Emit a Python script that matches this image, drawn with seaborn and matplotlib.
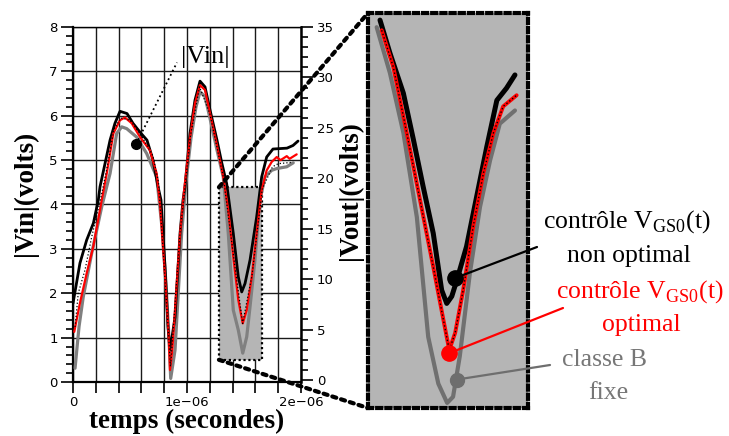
import matplotlib
matplotlib.use("Agg")
import numpy as np
import pandas as pd
import matplotlib.pyplot as plt
import seaborn as sns
from matplotlib.patches import Rectangle, ConnectionPatch
from matplotlib.ticker import MultipleLocator, FixedLocator

# time in microseconds, amplitude in volts
t_black = [0.0, 0.061, 0.12, 0.179, 0.222, 0.237, 0.325, 0.368, 0.412, 0.474, 0.526,
           0.588, 0.649, 0.702, 0.746, 0.772, 0.807, 0.833, 0.851, 0.895, 0.939,
           0.965, 0.982, 1.026, 1.07, 1.114, 1.158, 1.202, 1.263, 1.304, 1.348,
           1.406, 1.45, 1.48, 1.509, 1.553, 1.611, 1.655, 1.699, 1.754, 1.877,
           1.93, 1.974]
v_black = [1.77, 2.68, 3.2, 3.58, 4.1, 4.4, 5.45, 5.83, 6.1, 6.05, 5.83,
           5.63, 5.45, 5.0, 4.4, 4.1, 2.6, 1.24, 0.72, 1.46, 3.35,
           4.1, 4.4, 5.6, 6.35, 6.78, 6.65, 6.13, 5.45, 4.95, 4.47,
           3.35, 2.37, 2.03, 2.22, 2.75, 3.72, 4.62, 5.07, 5.25, 5.27,
           5.33, 5.43]

t_red = [0.011, 0.061, 0.12, 0.178, 0.252, 0.296, 0.354, 0.412, 0.456, 0.515, 0.588,
         0.675, 0.734, 0.763, 0.807, 0.838, 0.851, 0.871, 0.904, 0.939, 0.974,
         1.026, 1.07, 1.114, 1.158, 1.202, 1.26, 1.318, 1.362, 1.406, 1.45,
         1.489, 1.524, 1.568, 1.611, 1.655, 1.699, 1.743, 1.787, 1.82, 1.845,
         1.875, 1.9, 1.918, 1.962]
v_red = [1.13, 1.78, 2.45, 3.05, 4.1, 4.7, 5.6, 5.9, 5.96, 5.83, 5.52,
         5.22, 4.7, 4.0, 2.4, 1.1, 0.27, 0.72, 2.0, 3.35, 4.3,
         5.5, 6.28, 6.69, 6.58, 6.05, 5.37, 4.62, 3.87, 2.82, 1.85,
         1.32, 1.62, 2.37, 3.35, 4.32, 4.77, 4.96, 5.07, 5.0, 5.04,
         5.09, 5.03, 5.06, 5.13]

t_gray = [0.018, 0.053, 0.09, 0.164, 0.252, 0.325, 0.383, 0.427, 0.471, 0.558, 0.646,
          0.734, 0.78, 0.816, 0.842, 0.857, 0.895, 0.921, 0.953, 0.991, 1.035,
          1.079, 1.114, 1.158, 1.202, 1.26, 1.318, 1.362, 1.406, 1.45, 1.489,
          1.524, 1.553, 1.596, 1.64, 1.684, 1.743, 1.787, 1.875, 1.932]
v_gray = [0.31, 1.25, 1.92, 2.9, 3.95, 4.7, 5.6, 5.75, 5.71, 5.52, 5.15,
          4.62, 3.5, 2.2, 1.0, 0.08, 0.72, 1.9, 3.35, 4.5, 5.5,
          6.2, 6.54, 6.43, 5.94, 5.26, 4.62, 3.35, 1.62, 1.17, 0.65,
          1.02, 1.7, 2.75, 4.1, 4.62, 4.77, 4.81, 4.85, 4.94]

t_vin = [0.018, 0.046, 0.105, 0.164, 0.24, 0.3, 0.36, 0.42, 0.5, 0.6, 0.7,
         0.75, 0.8, 0.84, 0.855, 0.88, 0.94, 1.03, 1.11, 1.2, 1.32,
         1.41, 1.488, 1.57, 1.66, 1.75, 1.8, 1.92]
v_vin = [1.24, 2.0, 2.52, 3.27, 4.1, 4.85, 5.7, 5.95, 5.9, 5.55, 5.1,
         4.5, 2.6, 1.0, 0.35, 1.2, 3.4, 5.55, 6.65, 6.05, 4.6,
         2.8, 1.32, 2.4, 4.35, 4.85, 4.92, 4.95]

# zoomed view (hand-magnified in the original figure)
ti_black = [1.3085, 1.332, 1.364, 1.388, 1.411, 1.435, 1.455, 1.467, 1.479, 1.491,
            1.514, 1.538, 1.562, 1.586, 1.609, 1.629]
vi_black = [4.32, 3.996, 3.60, 3.14, 2.68, 2.22, 1.66, 1.53, 1.60, 1.76,
            2.09, 2.58, 3.07, 3.53, 3.65, 3.78]
ti_red = [1.3125, 1.340, 1.372, 1.4035, 1.435, 1.459, 1.473, 1.487, 1.506, 1.530,
          1.554, 1.578, 1.601, 1.633]
vi_red = [4.22, 3.86, 3.21, 2.55, 1.89, 1.37, 1.07, 1.24, 1.66, 2.29,
          2.81, 3.21, 3.47, 3.58]
ti_gray = [1.3006, 1.332, 1.364, 1.396, 1.423, 1.447, 1.468, 1.482, 1.498, 1.522,
           1.546, 1.570, 1.593, 1.629]
vi_gray = [4.25, 3.80, 3.21, 2.38, 1.20, 0.74, 0.55, 0.61, 1.01, 1.83,
           2.48, 2.94, 3.30, 3.43]

box_t = [1.28, 1.66]
box_v = [0.5, 4.39]

x_ticks = [0, 1, 2]
x_labels = ["0", "1e\u221206", "2e\u221206"]

BLACK = "#000000"
RED = "#ff0000"
GRAY = "#808080"
SHADE = "#b5b5b5"
DOTS = (0, (1, 1.2))

sns.set_style("ticks")
plt.rcParams["font.family"] = ["DejaVu Sans"]
plt.rcParams["mathtext.fontset"] = "custom"
plt.rcParams["mathtext.rm"] = "Liberation Serif"
for key in ["text.color", "axes.labelcolor", "xtick.color", "ytick.color", "axes.edgecolor"]:
    plt.rcParams[key] = BLACK
SERIF = ["Liberation Serif", "DejaVu Serif"]

fig = plt.figure(figsize=(7.29, 4.36), dpi=100)
ax = fig.add_axes([73 / 729, 1 - 382 / 436, 228 / 729, 355 / 436])

# zoom region in the main plot
ax.add_patch(Rectangle((box_t[0], box_v[0]), box_t[1] - box_t[0], box_v[1] - box_v[0],
                       facecolor=SHADE, edgecolor=BLACK, lw=1.6, ls=DOTS, zorder=1.8))

sns.lineplot(x=t_gray, y=v_gray, ax=ax, color=GRAY, lw=2.3, sort=False, zorder=3)
sns.lineplot(x=t_black, y=v_black, ax=ax, color=BLACK, lw=2.0, sort=False, zorder=4)
sns.lineplot(x=t_red, y=v_red, ax=ax, color=RED, lw=1.6, sort=False, zorder=5)
sns.lineplot(x=t_vin, y=v_vin, ax=ax, color=BLACK, lw=0.9, ls=":", sort=False, zorder=6)

ax.plot([0.553], [5.36], "o", color=BLACK, ms=7, zorder=7)
ax.plot([0.553, 0.912], [5.36, 7.2], color=BLACK, lw=1.3, ls=":", zorder=7)
ax.text(1.158, 7.32, "|Vin|", family=SERIF, fontsize=19, ha="center", va="center")

ax.set_xlim(0, 2)
ax.set_ylim(0, 8)
ax.xaxis.set_major_locator(FixedLocator(x_ticks))
ax.set_xticklabels(x_labels)
ax.xaxis.set_minor_locator(MultipleLocator(0.2))
ax.yaxis.set_major_locator(MultipleLocator(1))
ax.yaxis.set_minor_locator(MultipleLocator(0.2))
ax.grid(which="major", color="#1a1a1a", lw=1.0)
ax.grid(which="minor", axis="x", color="#1a1a1a", lw=1.0)
ax.tick_params(axis="both", which="both", direction="out", labelsize=9.5, width=1.2, pad=2)
ax.tick_params(axis="y", which="major", length=9)
ax.tick_params(axis="y", which="minor", length=4.8)
ax.tick_params(axis="x", which="both", length=8)
for side in ["left", "bottom"]:
    ax.spines[side].set_linewidth(1.6)
ax.spines["top"].set_linewidth(1.0)
ax.spines["right"].set_visible(False)
ax.set_xlabel("temps (secondes)", family=SERIF, fontsize=19.5, fontweight="bold", labelpad=0)
ax.set_ylabel("|Vin|(volts)", family=SERIF, fontsize=19.5, fontweight="bold")
ax.yaxis.set_label_coords(-0.155, 0.53)

ax2 = ax.twinx()
ax2.set_ylim(-0.2, 35)
ax2.yaxis.set_major_locator(MultipleLocator(5))
ax2.yaxis.set_minor_locator(MultipleLocator(1))
ax2.tick_params(axis="y", which="both", direction="out", labelsize=9.5, width=1.2, pad=3)
ax2.tick_params(axis="y", which="major", length=8.5)
ax2.tick_params(axis="y", which="minor", length=5)
for side in ["left", "top", "bottom"]:
    ax2.spines[side].set_visible(False)
ax2.spines["right"].set_linewidth(1.8)
ax2.set_ylabel("|Vout|(volts)", family=SERIF, fontsize=19.5, fontweight="bold")
ax2.yaxis.set_label_coords(1.16, 0.54)

# magnified view
axin = fig.add_axes([368 / 729, 1 - 408 / 436, 160 / 729, 395 / 436])
axin.set_facecolor(SHADE)
sns.lineplot(x=ti_gray, y=vi_gray, ax=axin, color="#707070", lw=3.0, sort=False, zorder=3)
sns.lineplot(x=ti_black, y=vi_black, ax=axin, color=BLACK, lw=3.6, sort=False, zorder=4)
sns.lineplot(x=ti_red, y=vi_red, ax=axin, color=RED, lw=2.8, sort=False, zorder=5)
sns.lineplot(x=ti_red, y=vi_red, ax=axin, color=BLACK, lw=1.0, ls=":", sort=False, zorder=6)
axin.set_xlim(*box_t)
axin.set_ylim(*box_v)
axin.set_xticks([])
axin.set_yticks([])
axin.set_xlabel("")
axin.set_ylabel("")
for sp in axin.spines.values():
    sp.set_linestyle(DOTS)
    sp.set_linewidth(3.0)
    sp.set_color(BLACK)

# zoom connector lines
for (xa, ya), (xb, yb) in [((box_t[0], box_v[1]), (0, 1)), ((box_t[0], box_v[0]), (0, 0))]:
    con = ConnectionPatch(xyA=(xa, ya), coordsA=ax.transData, xyB=(xb, yb),
                          coordsB=axin.transAxes, color=BLACK, lw=3.0, ls=DOTS)
    fig.add_artist(con)

# annotations for the three curves
notes = [
    ((1.487, 1.78), BLACK, 11, (537, 247), ["contrôle V$_{\\mathrm{GS0}}$(t)", "non optimal"],
     [(627, 222), (629, 256)], BLACK),
    ((1.473, 1.04), RED, 11, (563, 308), ["contrôle V$_{\\mathrm{GS0}}$(t)", "optimal"],
     [(640, 292), (641, 325)], RED),
    ((1.491, 0.78), "#6e6e6e", 10, (550, 365), ["classe B", "fixe"],
     [(604, 360), (608, 393)], "#777777"),
]
for (mx, my), mcol, ms, (ex, ey), lines, spots, tcol in notes:
    axin.plot([mx], [my], "o", color=mcol, ms=ms, zorder=8)
    con = ConnectionPatch(xyA=(mx, my), coordsA=axin.transData, xyB=(ex / 729, 1 - ey / 436),
                          coordsB=fig.transFigure, color=mcol, lw=1.6)
    fig.add_artist(con)
    for txt, (px, py) in zip(lines, spots):
        fig.text(px / 729, 1 - py / 436, txt, family=SERIF, fontsize=18.5, color=tcol,
                 ha="center", va="center")

fig.savefig("out.png", dpi=100)
